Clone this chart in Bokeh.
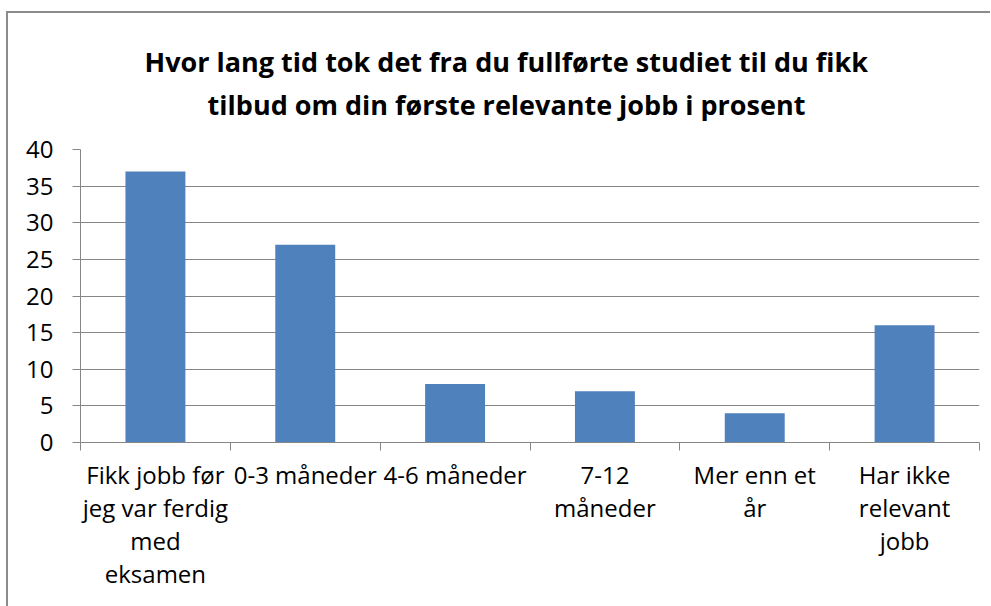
from bokeh.plotting import figure
from bokeh.models import FixedTicker, Title, Range1d, ColumnDataSource
from bokeh.embed import file_html
from bokeh.resources import INLINE

categories = ["Fikk jobb før\njeg var ferdig\nmed\neksamen", "0-3 måneder", "4-6 måneder",
              "7-12\nmåneder", "Mer enn et\når", "Har ikke\nrelevant\njobb"]
values = [37, 27, 8, 7, 4, 16]
y_ticks = [0, 5, 10, 15, 20, 25, 30, 35, 40]
title_lines = ["Hvor lang tid tok det fra du fullførte studiet til du fikk",
               "tilbud om din første relevante jobb i prosent"]

n = len(categories)
centers = [i + 0.5 for i in range(n)]
bounds = list(range(n + 1))

FONT = "Open Sans"
GRAY = "#868686"

p = figure(width=984, height=595, output_backend="svg", toolbar_location=None,
           x_range=Range1d(0, n), y_range=Range1d(0, 40),
           min_border_left=72, min_border_right=13, min_border_top=136, min_border_bottom=166)
p.styles = {"border-top": "2px solid #8c8c8c", "border-left": "2px solid #8c8c8c",
            "margin-top": "11px", "margin-left": "6px"}
p.outline_line_color = None
p.background_fill_color = "white"
p.border_fill_color = "white"

src = ColumnDataSource(dict(x=centers, top=values))
p.vbar(x="x", top="top", width=0.4, bottom=0, source=src, fill_color="#4F81BD", line_color=None)

# multi-line title; second line indented with no-break spaces so both lines look centred
title_text = title_lines[0] + "\n" + "\u00a0" * 9 + title_lines[1]
title = Title(text=title_text, align="left", offset=64, text_font=FONT, text_font_size="27px",
              text_font_style="bold", text_color="black", text_line_height=1.15, standoff=53)
p.add_layout(title, "above")

# y axis
p.yaxis.ticker = FixedTicker(ticks=y_ticks)
p.yaxis.axis_line_color = GRAY
p.yaxis.major_tick_line_color = GRAY
p.yaxis.major_tick_out = 8
p.yaxis.major_tick_in = 0
p.yaxis.minor_tick_line_color = None
p.yaxis.major_label_text_font = FONT
p.yaxis.major_label_text_font_size = "24px"
p.yaxis.major_label_text_color = "black"
p.yaxis.major_label_standoff = 19

# x axis
p.xaxis.ticker = FixedTicker(ticks=centers, minor_ticks=bounds)
p.xaxis.major_label_overrides = {c: lab for c, lab in zip(centers, categories)}
p.xaxis.axis_line_color = GRAY
p.xaxis.major_tick_line_color = None
p.xaxis.minor_tick_line_color = GRAY
p.xaxis.minor_tick_out = 8
p.xaxis.minor_tick_in = 0
p.xaxis.major_label_text_font = FONT
p.xaxis.major_label_text_font_size = "24px"
p.xaxis.major_label_text_line_height = 1.0
p.xaxis.major_label_text_color = "black"
p.xaxis.major_label_standoff = 7
p.xaxis.major_label_orientation = "horizontal"

p.xgrid.grid_line_color = None
p.ygrid.ticker = FixedTicker(ticks=y_ticks)
p.ygrid.grid_line_color = GRAY
p.ygrid.grid_line_width = 1

open("out.html", "w").write(file_html(p, INLINE))
